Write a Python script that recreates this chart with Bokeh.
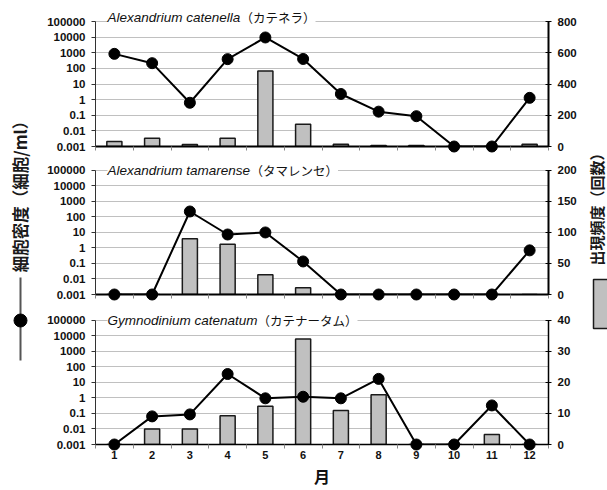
import math
from bokeh.plotting import figure
from bokeh.models import Range1d, LinearAxis, LinearScale, FixedTicker, CustomJSTickFormatter, Label
from bokeh.layouts import row, column
from bokeh.embed import file_html
from bokeh.resources import INLINE
from bokeh.core.properties import value

# ---------------- data ----------------
months = list(range(1, 13))

species_latin = ["Alexandrium catenella", "Alexandrium tamarense", "Gymnodinium catenatum"]
species_kana = ["（カテネラ）", "（タマレンセ）", "（カテナータム）"]

# cell density (cells/ml), line on left log axis (0 = not detected)
density_catenella = [850, 215, 0.63, 390, 9500, 400, 2.3, 0.17, 0.087, 0, 0, 1.3]
density_tamarense = [0, 0, 225, 7.4, 10, 0.135, 0, 0, 0, 0, 0, 0.7]
density_catenatum = [0, 0.065, 0.087, 35, 0.95, 1.2, 0.95, 17, 0, 0, 0.33, 0]

# occurrence frequency (count), bars on right axis
freq_catenella = [32, 53, 13, 53, 484, 143, 15, 6, 6, 0, 0, 15]
freq_tamarense = [0, 0, 90, 81, 32, 11, 0, 0, 0, 0, 0, 0]
freq_catenatum = [0, 5, 5, 9.3, 12.3, 34, 11, 16, 0, 0, 3.2, 0]

density_ticks = [0.001, 0.01, 0.1, 1, 10, 100, 1000, 10000, 100000]
freq_ticks_catenella = [0, 200, 400, 600, 800]
freq_ticks_tamarense = [0, 50, 100, 150, 200]
freq_ticks_catenatum = [0, 10, 20, 30, 40]

y_label_left = "細胞密度（細胞/ml）"
y_label_right = "出現頻度（回数）"
x_label = "月"

# ---------------- layout / style ----------------
MAIN_W = 543
LEFT_W = 42
RIGHT_W = 22
TOTAL_H = 490
NUM_FONT = "Liberation Sans"
JP_FONT = "Noto Sans CJK JP"
HEADROOM = 0.64  # extra decades above the top tick, room for the panel title

panels = [
    dict(latin=species_latin[0], kana=species_kana[0], dens=density_catenella, freq=freq_catenella,
         fticks=freq_ticks_catenella, height=158, bt=11, bb=12, kana_dx=145, dy=4, xlabels=False, axw=2),
    dict(latin=species_latin[1], kana=species_kana[1], dens=density_tamarense, freq=freq_tamarense,
         fticks=freq_ticks_tamarense, height=148, bt=2, bb=12, kana_dx=155, dy=0, xlabels=False, axw=2),
    dict(latin=species_latin[2], kana=species_kana[2], dens=density_catenatum, freq=freq_catenatum,
         fticks=freq_ticks_catenatum, height=184, bt=4, bb=45, kana_dx=162, dy=0, xlabels=True, axw=1.5),
]


def make_panel(cfg):
    floor = density_ticks[0]
    decades = math.log10(density_ticks[-1] / density_ticks[0])
    y_end = density_ticks[-1] * 10 ** HEADROOM
    r_end = cfg["fticks"][-1] * (decades + HEADROOM) / decades
    p = figure(width=MAIN_W, height=cfg["height"],
               x_range=Range1d(0.5, 12.5),
               y_range=Range1d(density_ticks[0], y_end),
               y_axis_type="log", output_backend="svg", toolbar_location=None,
               min_border_left=53, min_border_right=37,
               min_border_top=cfg["bt"], min_border_bottom=cfg["bb"])
    p.outline_line_color = None
    p.background_fill_color = "white"
    p.border_fill_color = "white"
    p.extra_y_ranges = {"cnt": Range1d(0, r_end)}
    p.extra_y_scales = {"cnt": LinearScale()}

    # grid
    p.xgrid.visible = False
    p.ygrid.ticker = FixedTicker(ticks=density_ticks)
    p.ygrid.grid_line_color = "#808080"
    p.ygrid.grid_line_dash = "1 1"
    p.ygrid.grid_line_width = 1

    # left log axis
    ya = p.yaxis[0]
    ya.ticker = FixedTicker(ticks=density_ticks)
    ya.bounds = (density_ticks[0], density_ticks[-1])
    ya.formatter = CustomJSTickFormatter(code="return tick.toString()")
    ya.major_label_text_font = NUM_FONT
    ya.major_label_text_font_style = "bold"
    ya.major_label_text_font_size = "11.5px"
    ya.major_label_text_color = "#111111"
    ya.axis_line_color = "#333333"
    ya.axis_line_width = 1
    ya.major_tick_out = 4
    ya.major_tick_in = 0
    ya.major_tick_line_color = "#333333"
    ya.minor_tick_line_color = None
    ya.major_label_standoff = 6

    # right linear axis
    ra = LinearAxis(y_range_name="cnt", ticker=FixedTicker(ticks=cfg["fticks"]))
    ra.bounds = (0, cfg["fticks"][-1])
    ra.major_label_text_font = NUM_FONT
    ra.major_label_text_font_style = "bold"
    ra.major_label_text_font_size = "11.5px"
    ra.major_label_text_color = "#111111"
    ra.axis_line_color = "black"
    ra.axis_line_width = cfg["axw"]
    ra.major_tick_out = 3
    ra.major_tick_in = 3
    ra.major_tick_line_color = "black"
    ra.minor_tick_line_color = None
    ra.major_label_standoff = 6
    p.add_layout(ra, "right")

    # x axis
    xa = p.xaxis[0]
    boundaries = [m + 0.5 for m in range(0, 13)]
    xa.axis_line_color = "black"
    xa.axis_line_width = cfg["axw"]
    xa.major_tick_out = 0
    xa.major_tick_in = 0
    xa.minor_tick_out = 4
    xa.minor_tick_in = 0
    xa.minor_tick_line_color = "#888888"
    if cfg["xlabels"]:
        xa.ticker = FixedTicker(ticks=months, minor_ticks=boundaries)
        xa.major_label_text_font = NUM_FONT
        xa.major_label_text_font_style = "bold"
        xa.major_label_text_font_size = "11px"
        xa.major_label_text_color = "#111111"
        xa.major_label_standoff = 2
        xa.axis_label = x_label
        xa.axis_label_text_font = JP_FONT
        xa.axis_label_text_font_size = "16px"
        xa.axis_label_text_font_style = "bold"
        xa.axis_label_text_color = "#111111"
        xa.axis_label_standoff = 2
    else:
        xa.ticker = FixedTicker(ticks=[], minor_ticks=boundaries)
        xa.major_label_standoff = 0

    # bars (frequency)
    p.vbar(x=months, top=cfg["freq"], bottom=0, width=0.4, y_range_name="cnt",
           fill_color="#c0c0c0", line_color="#1a1a1a", line_width=1.5)

    # line (density)
    dens_plot = [v if v > 0 else floor for v in cfg["dens"]]
    p.line(months, dens_plot, line_color="black", line_width=2)
    sc = p.scatter(months, dens_plot, size=11, marker="circle",
                   fill_color="black", line_color="black")
    sc.level = "overlay"

    # title
    t1 = Label(x=0.5, y=density_ticks[-1], x_offset=12, y_offset=cfg["dy"], text=cfg["latin"],
               text_font=NUM_FONT, text_font_style="italic", text_font_size="13.5px",
               text_color="#111111", text_baseline="middle", text_align="left",
               background_fill_color="white", level="overlay")
    t2 = Label(x=0.5, y=density_ticks[-1], x_offset=cfg["kana_dx"], y_offset=cfg["dy"], text=cfg["kana"],
               text_font=JP_FONT, text_font_size="12.5px",
               text_color="#111111", text_baseline="middle", text_align="left",
               background_fill_color="white", level="overlay")
    p.add_layout(t1)
    p.add_layout(t2)
    return p


figs = [make_panel(c) for c in panels]

# left side: axis title + line legend key
lf = figure(width=LEFT_W, height=TOTAL_H, x_range=Range1d(0, LEFT_W), y_range=Range1d(TOTAL_H, 0),
            output_backend="svg", toolbar_location=None, x_axis_location=None, y_axis_location=None,
            min_border=0)
lf.grid.visible = False
lf.outline_line_color = None
lf.text(x=[19], y=[192], text=[y_label_left], angle=math.pi / 2, text_align="center",
        text_baseline="middle", text_font=value(JP_FONT), text_font_size=value("16.5px"),
        text_font_style="bold", text_color="#1a1a1a")
lf.line(x=[20, 20], y=[277, 360], line_color="#555555", line_width=2)
lf.scatter(x=[20], y=[320], size=13, marker="circle", fill_color="black", line_color="black")

# right side: axis title + bar legend key
x0 = MAIN_W + LEFT_W
rf = figure(width=RIGHT_W, height=TOTAL_H, x_range=Range1d(x0, x0 + RIGHT_W),
            y_range=Range1d(TOTAL_H, 0),
            output_backend="svg", toolbar_location=None, x_axis_location=None, y_axis_location=None,
            min_border=0)
rf.grid.visible = False
rf.outline_line_color = None
rf.text(x=[596], y=[205], text=[y_label_right], angle=math.pi / 2, text_align="center",
        text_baseline="middle", text_font=value(JP_FONT), text_font_size=value("15px"),
        text_font_style="bold", text_color="#1a1a1a")
rf.quad(left=[593], right=[620], top=[279], bottom=[328], fill_color="#c0c0c0",
        line_color="#1a1a1a", line_width=1.5)

layout = row(lf, column(*figs), rf)

open("out.html", "w").write(file_html(layout, INLINE))
